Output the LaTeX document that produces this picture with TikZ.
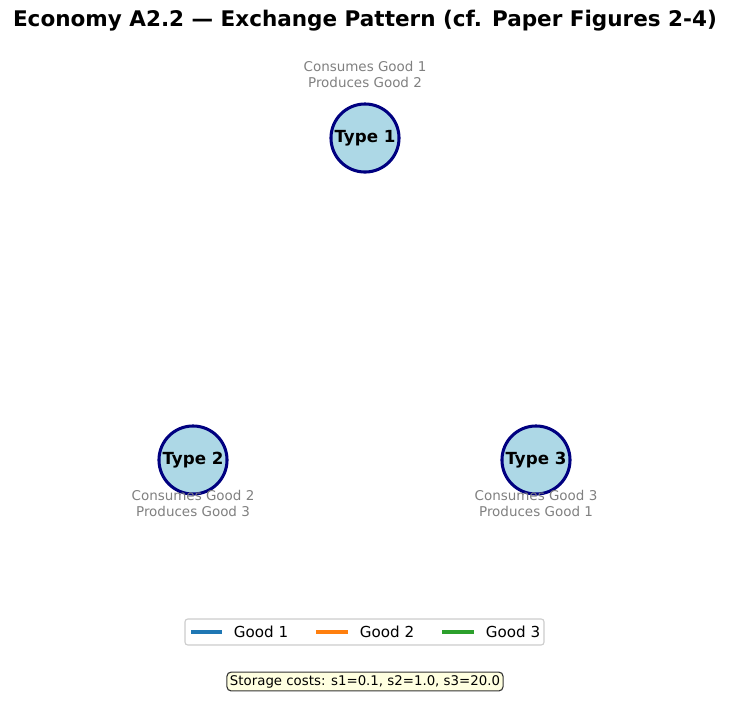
\documentclass[tikz,border=0pt]{standalone}
\usepackage{fontspec}
\setmainfont{DejaVu Sans}
\usepackage{tikz}

\definecolor{lblue}{HTML}{ADD8E6}
\definecolor{navyline}{HTML}{000080}
\definecolor{goodone}{HTML}{1F77B4}
\definecolor{goodtwo}{HTML}{FF7F0E}
\definecolor{goodthree}{HTML}{2CA02C}
\definecolor{lyellow}{HTML}{FFFFE0}
\definecolor{note}{HTML}{808080}
\definecolor{frame}{HTML}{CCCCCC}

\tikzset{
  agent/.style = {draw=navyline, fill=lblue, shape=circle, line width=2.2pt,
    minimum size=49pt, inner sep=0pt, font=\fontsize{12}{13}\selectfont\bfseries},
  role/.style = {text=note, align=center, font=\fontsize{9.7}{11.2}\selectfont},
  legline/.style = {line width=2.3pt},
  legtext/.style = {anchor=west, font=\fontsize{10.9}{12}\selectfont}
}

\begin{document}
\begin{tikzpicture}[x=0.72pt, y=-0.72pt]
\useasboundingbox (0,0) rectangle (730,701);

\node[font=\fontsize{15.5}{17}\selectfont\bfseries] (title) at (365,21) {Economy A2.2 --- Exchange Pattern (cf. Paper Figures 2-4)};

\node[agent] (type1) at (365,138) {Type 1};
\node[agent] (type2) at (193,460) {Type 2};
\node[agent] (type3) at (536,460) {Type 3};

\node[role] (role1) at (365,74.5) {Consumes Good 1\\Produces Good 2};
\node[role] (role2) at (193,503.5) {Consumes Good 2\\Produces Good 3};
\node[role] (role3) at (536,503.5) {Consumes Good 3\\Produces Good 1};

% legend
\draw[draw=frame, fill=white, rounded corners=2pt, line width=0.8pt] (185,619) rectangle (544,645);
\draw[legline, goodone] (191,632) -- (222,632);
\draw[legline, goodtwo] (316,632) -- (348,632);
\draw[legline, goodthree] (442,632) -- (474,632);
\node[legtext] (good1) at (229,632) {Good 1};
\node[legtext] (good2) at (355,632) {Good 2};
\node[legtext] (good3) at (481,632) {Good 3};

\node[draw=black!80, fill=lyellow, rounded corners=3pt, line width=0.8pt, inner sep=2.2pt,
  font=\fontsize{9.6}{11}\selectfont] (costs) at (365,681.5) {Storage costs: s1=0.1, s2=1.0, s3=20.0};

\end{tikzpicture}
\end{document}
